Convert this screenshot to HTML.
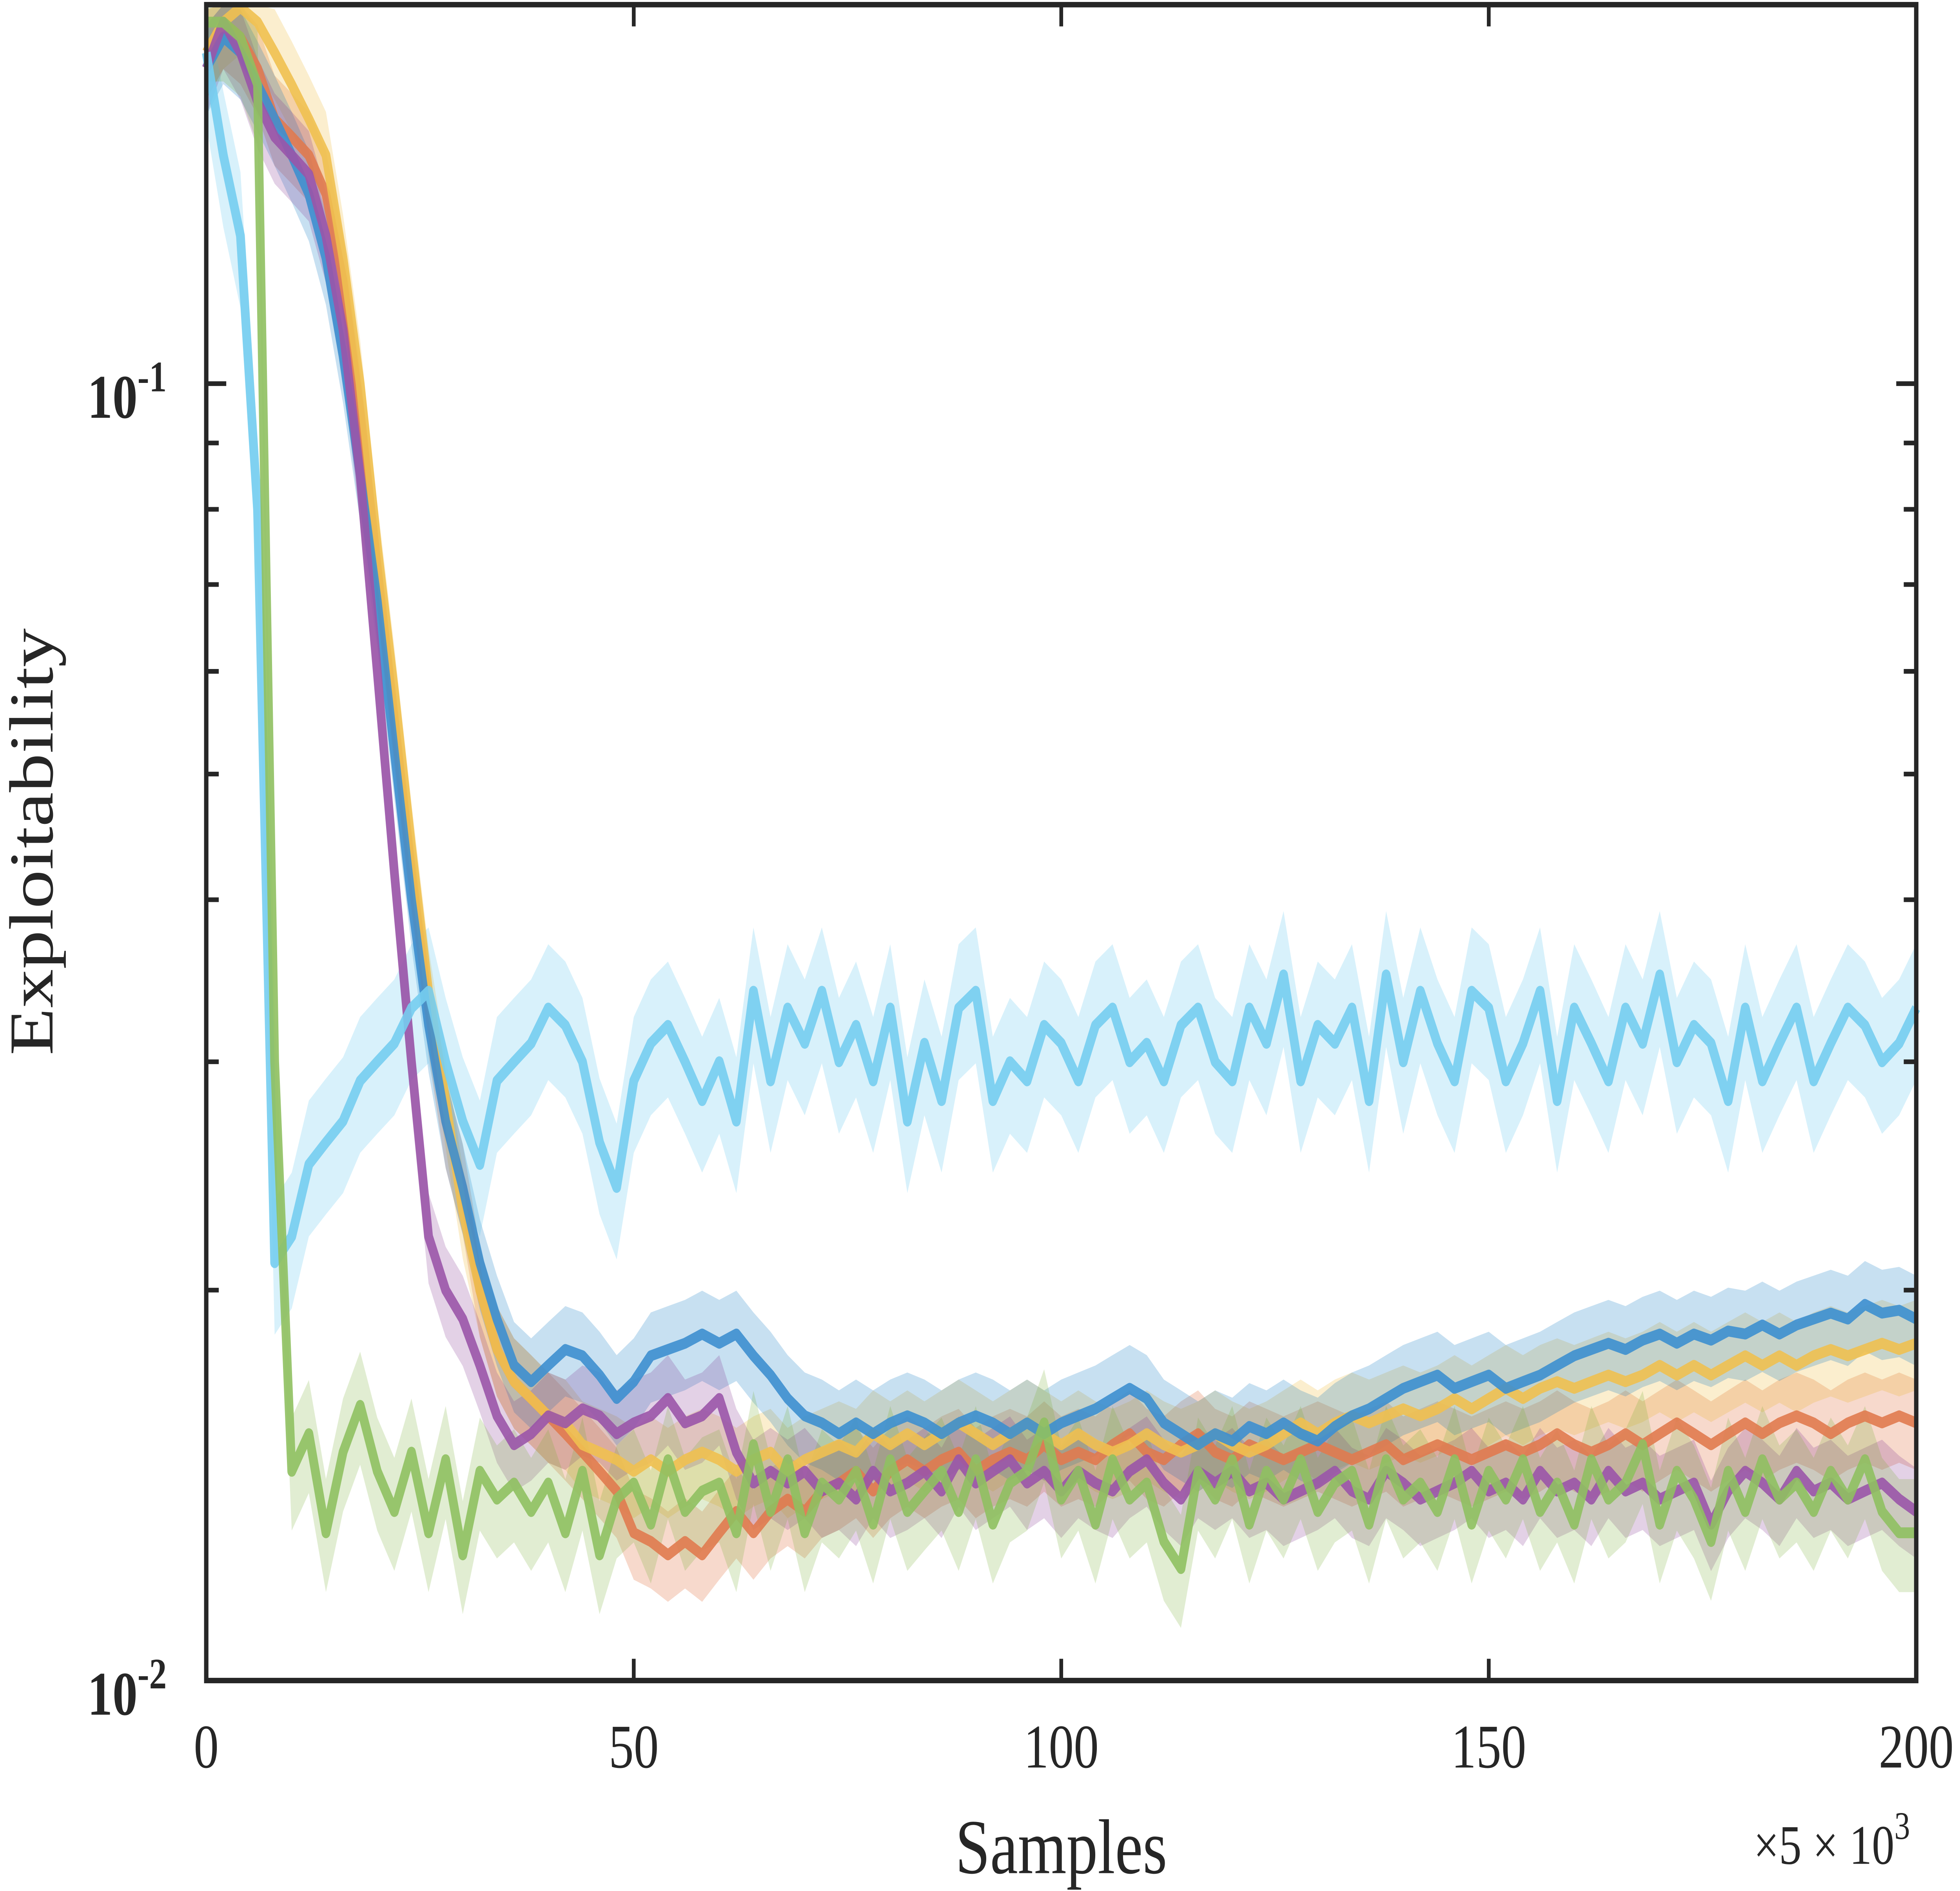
<!DOCTYPE html>
<html><head><meta charset="utf-8"><style>
html,body{margin:0;padding:0;background:#fff;overflow:hidden;width:100vw;height:100vh;}
svg{display:block;width:100vw;height:100vh;}
text{font-family:"Liberation Serif",serif;fill:#262626;}
</style></head><body>
<svg id="chart" viewBox="0 0 1568 1217.5" preserveAspectRatio="none" xmlns="http://www.w3.org/2000/svg">
<rect x="0" y="0" width="1568" height="1217.5" fill="#fff"/>
<g id="bands"></g>
<g id="lines"></g>
<g id="axes"></g>
</svg>
<script>
const xs = [];
for (let i = 0; i <= 200; i += 2) xs.push(i);
const xTicks = [0, 50, 100, 150, 200];
const yMajor = [0.01, 0.1];
const yMinor = [0.02,0.03,0.04,0.05,0.06,0.07,0.08,0.09];
const seriesNames = ['orange','yellow','blue','purple','lightblue','green'];
const orangeVals = [0.18,0.19,0.185,0.175,0.16,0.155,0.15,0.14,0.12,0.095,0.072,0.055,0.042,0.033,0.027,0.024,0.02,0.018,0.017,0.0165,0.016,0.0155,0.015,0.0145,0.014,0.013,0.0128,0.0125,0.0128,0.0125,0.013,0.0135,0.013,0.0135,0.0138,0.0135,0.014,0.0142,0.0145,0.014,0.0145,0.0148,0.0145,0.0148,0.015,0.0145,0.0148,0.015,0.0148,0.0152,0.0148,0.015,0.0148,0.0152,0.0155,0.015,0.0148,0.0152,0.0155,0.015,0.0148,0.0152,0.015,0.0148,0.015,0.0152,0.015,0.0148,0.015,0.0152,0.0148,0.015,0.0152,0.015,0.0148,0.015,0.0152,0.015,0.0152,0.0155,0.0152,0.015,0.0152,0.0155,0.0152,0.0155,0.0158,0.0155,0.0152,0.0155,0.0158,0.0155,0.0158,0.016,0.0158,0.0155,0.0158,0.016,0.0158,0.016,0.0158];
const yellowVals = [0.18,0.19,0.195,0.19,0.18,0.17,0.16,0.15,0.125,0.1,0.075,0.058,0.044,0.034,0.028,0.023,0.02,0.018,0.017,0.0165,0.016,0.0158,0.0152,0.015,0.0148,0.0145,0.0148,0.0145,0.0148,0.015,0.0148,0.0145,0.0148,0.015,0.0145,0.0148,0.015,0.0152,0.015,0.0155,0.0152,0.0155,0.0152,0.0155,0.0158,0.0155,0.0152,0.0155,0.0158,0.0155,0.0152,0.0155,0.0152,0.015,0.0152,0.0155,0.0152,0.015,0.0152,0.0155,0.0152,0.015,0.0152,0.0155,0.0158,0.0155,0.0158,0.016,0.0158,0.016,0.0162,0.016,0.0162,0.0165,0.0162,0.0165,0.0168,0.0165,0.0168,0.017,0.0168,0.017,0.0172,0.017,0.0172,0.0175,0.0172,0.0175,0.0172,0.0175,0.0178,0.0175,0.0178,0.0175,0.0178,0.018,0.0178,0.018,0.0182,0.018,0.0182];
const blueVals = [0.175,0.185,0.18,0.17,0.16,0.15,0.14,0.125,0.105,0.085,0.068,0.052,0.04,0.032,0.027,0.024,0.021,0.019,0.0175,0.017,0.0175,0.018,0.0178,0.0172,0.0165,0.017,0.0178,0.018,0.0182,0.0185,0.0182,0.0185,0.0178,0.0172,0.0165,0.016,0.0158,0.0155,0.0158,0.0155,0.0158,0.016,0.0158,0.0155,0.0158,0.016,0.0158,0.0155,0.0158,0.0155,0.0158,0.016,0.0162,0.0165,0.0168,0.0165,0.0158,0.0155,0.0152,0.0155,0.0153,0.0157,0.0155,0.0158,0.0155,0.0153,0.0157,0.016,0.0162,0.0165,0.0168,0.017,0.0172,0.0168,0.017,0.0172,0.0168,0.017,0.0172,0.0175,0.0178,0.018,0.0182,0.018,0.0183,0.0185,0.0182,0.0185,0.0183,0.0186,0.0185,0.0188,0.0185,0.0188,0.019,0.0192,0.019,0.0195,0.0192,0.0193,0.019];
const purpleVals = [0.175,0.19,0.18,0.165,0.155,0.15,0.145,0.13,0.11,0.085,0.06,0.042,0.03,0.022,0.02,0.019,0.0175,0.016,0.0152,0.0155,0.016,0.0158,0.0162,0.016,0.0155,0.0158,0.016,0.0165,0.0158,0.016,0.0165,0.015,0.0142,0.0145,0.0142,0.0145,0.014,0.0142,0.0138,0.0145,0.014,0.0142,0.0145,0.014,0.0148,0.0142,0.0145,0.0148,0.0142,0.0145,0.014,0.0145,0.0142,0.014,0.0145,0.0148,0.0142,0.0138,0.0145,0.0142,0.0145,0.014,0.0142,0.0138,0.014,0.0142,0.0145,0.014,0.0138,0.0145,0.0142,0.0138,0.014,0.0142,0.0145,0.014,0.0142,0.0138,0.0145,0.014,0.0142,0.0138,0.0145,0.014,0.0142,0.0138,0.014,0.0142,0.0132,0.014,0.0145,0.0142,0.0138,0.0145,0.014,0.0142,0.0138,0.014,0.0142,0.0138,0.0135];
const lightblueVals = [0.18,0.15,0.13,0.08,0.021,0.022,0.025,0.026,0.027,0.029,0.030,0.031,0.033,0.034,0.030,0.027,0.025,0.029,0.030,0.031,0.033,0.032,0.030,0.026,0.024,0.029,0.031,0.032,0.030,0.028,0.030,0.027,0.034,0.029,0.033,0.031,0.034,0.030,0.032,0.029,0.033,0.027,0.031,0.028,0.033,0.034,0.028,0.030,0.029,0.032,0.031,0.029,0.032,0.033,0.030,0.031,0.029,0.032,0.033,0.030,0.029,0.033,0.031,0.035,0.029,0.032,0.031,0.033,0.028,0.035,0.030,0.034,0.031,0.029,0.034,0.033,0.029,0.031,0.034,0.028,0.033,0.031,0.029,0.033,0.031,0.035,0.030,0.032,0.031,0.028,0.033,0.029,0.031,0.033,0.029,0.031,0.033,0.032,0.030,0.031,0.033];
const greenVals = [0.19,0.19,0.185,0.17,0.03,0.0145,0.0155,0.013,0.015,0.0163,0.0145,0.0135,0.015,0.013,0.0148,0.0125,0.0145,0.0138,0.0142,0.0135,0.0142,0.013,0.0145,0.0125,0.0138,0.0142,0.0132,0.0148,0.0135,0.014,0.0142,0.013,0.0152,0.0135,0.0148,0.013,0.0142,0.0138,0.0145,0.0132,0.0148,0.0135,0.014,0.0145,0.0135,0.0148,0.0132,0.0142,0.0145,0.0158,0.0138,0.0145,0.0132,0.0148,0.0138,0.0142,0.0128,0.0122,0.0145,0.0138,0.0148,0.0132,0.0145,0.0138,0.0148,0.0135,0.0142,0.0145,0.0132,0.0148,0.0138,0.0142,0.0135,0.0148,0.0132,0.0145,0.0138,0.0148,0.0135,0.0142,0.0132,0.0148,0.0138,0.0142,0.0152,0.0132,0.0145,0.0138,0.0128,0.0145,0.0135,0.0148,0.0138,0.0142,0.0135,0.0145,0.0138,0.0148,0.0135,0.013,0.013];
const bandSpread = [0.08, 0.08, 0.08, 0.08, 0.12, 0.1];

const colors = {orange:'#e07a4f', yellow:'#f0c050', blue:'#3d8fcf', purple:'#9a55a8', lightblue:'#76cdf0', green:'#8fc060'};
const edge = {orange:'#d95319', yellow:'#edb120', blue:'#0072bd', purple:'#7e2f8e', lightblue:'#4dbeee', green:'#77ac30'};
const allVals = {orange:orangeVals, yellow:yellowVals, blue:blueVals, purple:purpleVals, lightblue:lightblueVals, green:greenVals};

const L=165, R=1533, T=3, B=1082;
const xS = v => L + (R-L)*v/200;
const yS = v => 247 + 835*(-1 - Math.log10(v));
const NS='http://www.w3.org/2000/svg';
const mk=(tag,attrs,parent)=>{const e=document.createElementNS(NS,tag);for(const k in attrs)e.setAttribute(k,attrs[k]);parent.appendChild(e);return e;};
const clipY = y => Math.max(T, Math.min(B, y));

const bands=document.getElementById('bands'), lines=document.getElementById('lines'), axes=document.getElementById('axes');
seriesNames.forEach((n,si)=>{
  const v=allVals[n], s=bandSpread[si];
  let up=[], lo=[];
  v.forEach((val,i)=>{up.push(xS(xs[i])+','+clipY(yS(val*(1+s)))); lo.push(xS(xs[i])+','+clipY(yS(val*(1-s))));});
  const b=mk('polygon',{points:up.concat(lo.reverse()).join(' '),fill:edge[n],'fill-opacity':0.22,stroke:'none'},bands);
  
  
});
seriesNames.forEach(n=>{
  const v=allVals[n];
  const pts=v.map((val,i)=>xS(xs[i])+','+clipY(yS(val))).join(' ');
  const l=mk('polyline',{points:pts,fill:'none',stroke:colors[n],'stroke-width':7,'stroke-linejoin':'round','stroke-opacity':0.9},lines);
  
  
});
const box=mk('rect',{x:L,y:T,width:R-L,height:B-T,fill:'none',stroke:'#262626','stroke-width':3.5},axes);


xTicks.forEach(t=>{
  const x=xS(t);
  mk('line',{x1:x,x2:x,y1:B,y2:B-14,stroke:'#262626','stroke-width':3},axes);
  mk('line',{x1:x,x2:x,y1:T,y2:T+14,stroke:'#262626','stroke-width':3},axes);
  const tx=mk('text',{x:x,y:1138,'font-size':40,'text-anchor':'middle'},axes);
  tx.textContent=t;
  
  
});
yMinor.forEach(t=>{
  const y=yS(t);
  mk('line',{x1:L,x2:L+10,y1:y,y2:y,stroke:'#262626','stroke-width':3},axes);
  mk('line',{x1:R,x2:R-10,y1:y,y2:y,stroke:'#262626','stroke-width':3},axes);
});
yMajor.forEach(t=>{
  const y=yS(t);
  mk('line',{x1:L,x2:L+16,y1:y,y2:y,stroke:'#262626','stroke-width':3},axes);
  mk('line',{x1:R,x2:R-16,y1:y,y2:y,stroke:'#262626','stroke-width':3},axes);
  const tx=mk('text',{x:70,y:y+22,'font-size':40,'font-weight':'bold'},axes);
  
  
  const exp=Math.round(Math.log10(t));
  tx.innerHTML='10<tspan dy="-17" font-size="28">'+exp+'</tspan>';
});
const xl=mk('text',{x:849,y:1206,'font-size':50,'text-anchor':'middle'},axes);
xl.textContent='Samples';


const yl=mk('text',{x:0,y:0,'font-size':50,'text-anchor':'middle',transform:'translate(42,542) rotate(-90)'},axes);
yl.textContent='Exploitability';


const mult=mk('text',{x:1528,y:1200,'font-size':36,'text-anchor':'end'},axes);
mult.innerHTML='×5 × 10<tspan dy="-16" font-size="25">3</tspan>';


</script>
</body></html>
